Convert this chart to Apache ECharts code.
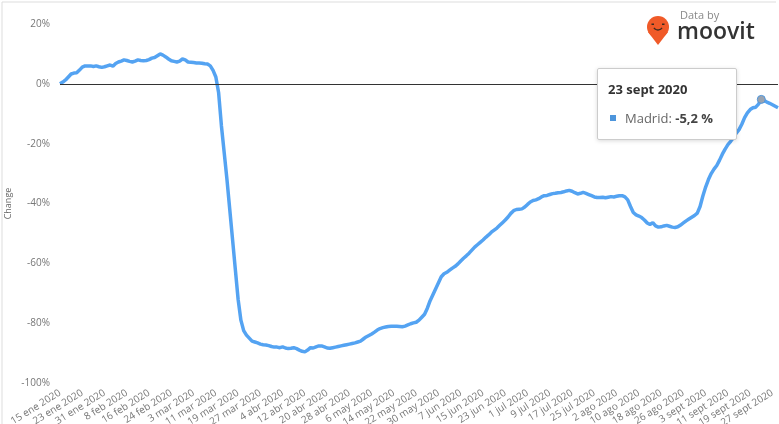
<!DOCTYPE html>
<html>
<head>
<meta charset="utf-8">
<script src="https://cdn.jsdelivr.net/npm/echarts@6/dist/echarts.min.js"></script>
<style>
  html, body { margin: 0; padding: 0; background: #fff; }
  #chart { width: 779px; height: 424px; }
</style>
</head>
<body>
<div id="chart"></div>
<script>
// months used in the date labels
const monthNames = ['ene', 'feb', 'mar', 'abr', 'may', 'jun', 'jul', 'ago', 'sept', 'oct', 'nov', 'dic'];
const startDate = [2020, 0, 15];
const seriesName = 'Madrid';

// daily change in %, 15 ene 2020 -> 29 sept 2020
const madrid = [
  0, 0.6, 1.3, 2.3, 3.3, 3.6, 3.7, 4.6, 5.6, 6.0, 6.0,
  6.0, 5.8, 6.0, 5.7, 5.5, 5.7, 6.0, 6.3, 5.9, 6.8,
  7.3, 7.6, 8.0, 7.8, 7.5, 7.3, 7.6, 8.0, 7.8, 7.7,
  7.8, 8.1, 8.6, 8.8, 9.4, 10.0, 9.6, 9.0, 8.3, 7.7,
  7.5, 7.3, 7.6, 8.3, 8.0, 7.3, 7.2, 7.1, 7.0, 7.0,
  6.9, 6.7, 6.6, 6.0, 4.5, 2.3, -3, -14, -23, -32,
  -42, -52, -62, -72, -79, -82.5, -84, -85, -86, -86.3,
  -86.6, -87, -87.2, -87.3, -87.5, -87.8, -88, -88, -88.2, -87.9,
  -88.3, -88.5, -88.4, -88.2, -88.5, -89, -89.4, -89.6, -89, -88.2,
  -88.3, -87.9, -87.6, -87.6, -87.9, -88.3, -88.4, -88.2, -88, -87.8,
  -87.6, -87.4, -87.2, -87, -86.8, -86.6, -86.3, -86, -85.3, -84.6,
  -84.1, -83.6, -83, -82.3, -81.8, -81.5, -81.3, -81.1, -81, -81,
  -81, -81.1, -81.2, -81, -80.6, -80.2, -79.9, -79.7, -79, -78,
  -77, -75, -72.5, -70.5, -68.5, -66.5, -64.5, -63.5, -63, -62.3,
  -61.6, -61, -60.2, -59.2, -58.3, -57.5, -56.6, -55.6, -54.6, -53.8,
  -53, -52.2, -51.3, -50.5, -49.6, -48.9, -48.2, -47.3, -46.4, -45.5,
  -44.5, -43.3, -42.4, -42, -41.9, -41.8, -41.2, -40.3, -39.5, -39,
  -38.8, -38.4, -37.8, -37.4, -37.3, -37, -36.7, -36.6, -36.4, -36.3,
  -36.1, -35.8, -35.6, -35.9, -36.4, -36.8, -36.6, -36.3, -36.6, -37,
  -37.4, -37.8, -38, -38, -37.9, -38.1, -37.9, -37.7, -37.8, -37.6,
  -37.4, -37.4, -37.8, -38.8, -41, -43, -43.8, -44.2, -44.7, -45.5,
  -46.5, -47, -46.4, -47.5, -47.9, -47.8, -47.5, -47.3, -47.6, -47.9,
  -48, -47.8, -47.2, -46.5, -45.8, -45.2, -44.6, -44, -43.2, -41,
  -37.5, -34.5, -32, -30, -28.5, -27.3, -25.5, -23.5, -21.8, -20.3,
  -19.2, -18, -16.5, -15.3, -13.5, -11.3, -9.7, -8.6, -8, -7.8,
  -6.8, -5.2, -5.6, -6.1, -6.5, -7, -7.5, -8
];

const yTicks = { min: -100, max: 20, interval: 20 };
const tipIndex = 252; // 23 sept 2020

const dates = [];
for (let i = 0; i < madrid.length; i++) {
  const d = new Date(startDate[0], startDate[1], startDate[2] + i);
  dates.push(d.getDate() + ' ' + monthNames[d.getMonth()] + ' ' + d.getFullYear());
}

const lineColor = '#4d95dc';
const font = '"Open Sans", "Noto Sans", sans-serif';

const chart = echarts.init(document.getElementById('chart'));
chart.setOption({
  animation: false,
  textStyle: { fontFamily: font },
  grid: { left: 60, right: 1, top: 24, bottom: 41, outerBoundsMode: 'none' },
  tooltip: {
    trigger: 'axis',
    alwaysShowContent: true,
    position: [597, 68],
    backgroundColor: '#fff',
    borderColor: '#ccc',
    borderWidth: 1,
    padding: [10, 10, 10, 10],
    extraCssText: 'box-shadow: 0 1px 4px rgba(0,0,0,0.15); border-radius: 2px; width: 118px;',
    axisPointer: { type: 'line', lineStyle: { opacity: 0 } },
    formatter: function (params) {
      const p = params[0];
      const v = p.value.toFixed(1).replace('.', ',');
      return '<div style="font-family:' + font.replace(/"/g, "'") + ';">' +
        '<div style="font-weight:bold;font-size:13px;color:#333;margin-bottom:8px;">' + p.name + '</div>' +
        '<div style="font-size:13px;color:#666;"><span style="display:inline-block;width:6px;height:6px;background:' + lineColor + ';margin:0 9px 2px 2px;"></span>' +
        p.seriesName + ': <b style="color:#444;">' + v + ' %</b></div></div>';
    }
  },
  xAxis: {
    type: 'category',
    data: dates,
    boundaryGap: false,
    axisLine: { show: false },
    axisTick: { show: false },
    axisLabel: {
      interval: 7,
      rotate: 32,
      margin: 9,
      fontSize: 10,
      color: '#777'
    }
  },
  yAxis: {
    type: 'value',
    min: yTicks.min,
    max: yTicks.max,
    interval: yTicks.interval,
    name: 'Change',
    nameLocation: 'middle',
    nameGap: 47,
    nameMoveOverlap: false,
    nameTextStyle: { fontSize: 9, color: '#666' },
    axisLine: { show: false },
    axisTick: { show: false },
    splitLine: { show: false },
    axisLabel: { formatter: '{value}%', fontSize: 10, color: '#777', margin: 10 }
  },
  series: [{
    name: seriesName,
    type: 'line',
    data: madrid,
    showSymbol: false,
    symbol: 'circle',
    symbolSize: 8,
    lineStyle: { color: lineColor, width: 3.5 },
    itemStyle: { color: lineColor },
    emphasis: {
      scale: false,
      lineStyle: { width: 3.5 },
      itemStyle: { color: '#9aa3b0', borderColor: lineColor, borderWidth: 1 }
    },
    markLine: {
      silent: true,
      symbol: 'none',
      label: { show: false },
      lineStyle: { color: '#333', width: 1, type: 'solid' },
      data: [{ yAxis: 0 }]
    },
    z: 3
  }],
  graphic: [
    {
      type: 'polyline',
      shape: { points: [[2, 424], [2, 2], [776, 2]] },
      style: { stroke: '#ddd', lineWidth: 1, fill: null },
      silent: true
    },
    { type: 'circle', silent: true, shape: { cx: 658, cy: 27, r: 11 }, style: { fill: '#f05a28' } },
    { type: 'polygon', silent: true, shape: { points: [[648, 32], [668, 32], [658, 45]] }, style: { fill: '#f05a28' } },
    { type: 'rect', silent: true, shape: { x: 651.5, y: 23.5, width: 2.5, height: 1.5 }, style: { fill: '#3a2a20' } },
    { type: 'rect', silent: true, shape: { x: 662, y: 23.5, width: 2.5, height: 1.5 }, style: { fill: '#3a2a20' } },
    {
      type: 'arc', silent: true,
      shape: { cx: 658, cy: 25, r: 5, startAngle: Math.PI * 0.2, endAngle: Math.PI * 0.8 },
      style: { stroke: '#3a2a20', lineWidth: 1.3, fill: null }
    },
    {
      type: 'text', silent: true,
      style: { x: 680, y: 10, text: 'Data by', fontSize: 11, fill: '#8a8a8a', fontFamily: font }
    },
    {
      type: 'text', silent: true,
      style: { x: 677, y: 21, text: 'moovit', fontSize: 23, fontWeight: 600, fill: '#333', fontFamily: font }
    }
  ]
});

chart.dispatchAction({ type: 'showTip', seriesIndex: 0, dataIndex: tipIndex });
</script>
</body>
</html>
